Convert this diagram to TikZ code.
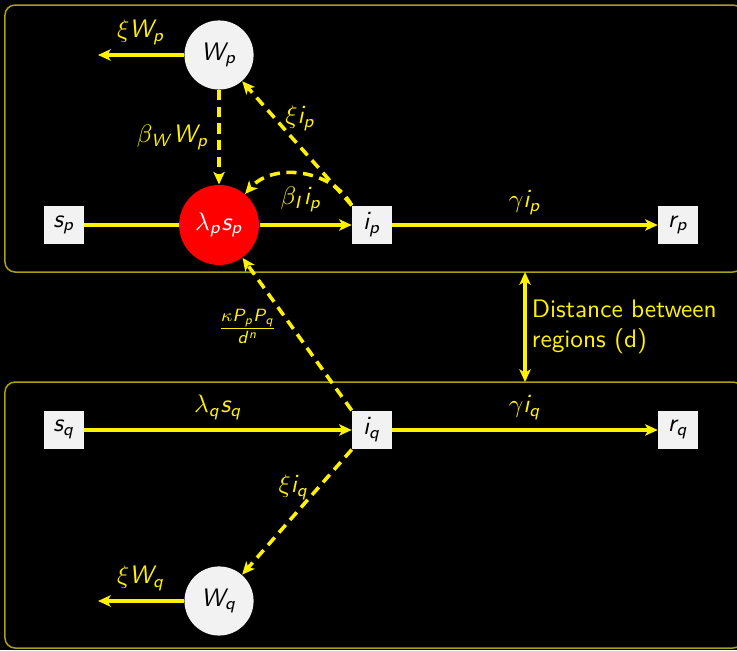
\documentclass[tikz,border=0pt]{standalone}
\usepackage{amsmath,amssymb}
\usepackage{xcolor}
\usepackage{tikz}
\usetikzlibrary{arrows.meta,positioning}

\DeclareMathAlphabet{\mathsfit}{OT1}{cmss}{m}{sl}
\newcommand{\sv}[1]{\mathsfit{#1}}
\definecolor{regionline}{RGB}{170,160,20}

\begin{document}
\begin{tikzpicture}[
    comp/.style={draw=none, fill=gray!10, minimum width=0.55cm, minimum height=0.53cm,
                 inner sep=2pt, text=black},
    reservoir/.style={circle, fill=gray!10, minimum size=0.96cm, inner sep=0pt, text=black},
    force/.style={circle, fill=red, minimum size=1.11cm, inner sep=0pt, text=white},
    flow/.style={line width=1.4pt, yellow, -{Stealth[length=5pt,width=4.5pt,inset=1.3pt]}},
    link/.style={line width=1.4pt, yellow},
    shed/.style={flow, dash pattern=on 4pt off 2.6pt},
    region/.style={draw=regionline, line width=0.6pt, rounded corners=0.14cm},
    lbl/.style={text=yellow},
]
\useasboundingbox (0,0) rectangle (10.236,9.028);
\fill[black] (0,0) rectangle (10.236,9.028);

% Regions
\draw[region] (0.069,5.25) rectangle (10.32,8.958);
\draw[region] (0.069,0.028) rectangle (10.32,3.722);
\coordinate (dtop) at (7.292,5.25);
\coordinate (dbot) at (7.292,3.722);

% === Region p ===
\node[comp] (sp) at (0.889,5.903) {$\sv{s}_{\sv{p}}$};
\node[force] (lam) at (3.042,5.903) {$\lambda_{\sv{p}}\sv{s}_{\sv{p}}$};
\node[comp] (ip) at (5.167,5.903) {$\sv{i}_{\sv{p}}$};
\node[comp] (rp) at (9.417,5.903) {$\sv{r}_{\sv{p}}$};
\node[reservoir] (wp) at (3.042,8.264) {$\sv{W}_{\sv{p}}$};
\coordinate (wpout) at (1.361,8.264);

\draw[link] (sp) -- (lam);
\draw[flow] (lam) -- (ip);
\draw[flow] (ip) -- node[lbl, above] {$\gamma \sv{i}_{\sv{p}}$} (rp);
\draw[flow] (wp) -- node[lbl, above] {$\xi \sv{W}_{\sv{p}}$} (wpout);
\draw[shed] (wp) -- node[lbl, left] {$\beta_{\sv{W}} \sv{W}_{\sv{p}}$} (lam);
\draw[shed] (ip.north west) -- node[lbl, pos=0.7, right] {$\xi \sv{i}_{\sv{p}}$} (wp);
\draw[shed] (ip.north west) to[bend right=55] node[lbl, midway, below=1pt] {$\beta_{\sv{I}} \sv{i}_{\sv{p}}$} (lam.50);

% === Region q ===
\node[comp] (sq) at (0.889,3.056) {$\sv{s}_{\sv{q}}$};
\node[comp] (iq) at (5.167,3.056) {$\sv{i}_{\sv{q}}$};
\node[comp] (rq) at (9.417,3.056) {$\sv{r}_{\sv{q}}$};
\node[reservoir] (wq) at (3.042,0.681) {$\sv{W}_{\sv{q}}$};
\coordinate (wqout) at (1.361,0.681);

\draw[flow] (sq) -- node[lbl, above] {$\lambda_{\sv{q}}\sv{s}_{\sv{q}}$} (iq);
\draw[flow] (iq) -- node[lbl, above] {$\gamma \sv{i}_{\sv{q}}$} (rq);
\draw[flow] (wq) -- node[lbl, above] {$\xi \sv{W}_{\sv{q}}$} (wqout);
\draw[shed] (iq.south west) -- node[lbl, pos=0.3, left] {$\xi \sv{i}_{\sv{q}}$} (wq);

% Coupling between regions
\draw[shed] (iq.north west) -- node[lbl, pos=0.55, left, inner sep=5pt] {$\frac{\kappa \sv{P}_{\sv{p}} \sv{P}_{\sv{q}}}{\sv{d}^{\sv{n}}}$} (lam);
\draw[line width=1.4pt, yellow, {Stealth[length=5pt,width=4.5pt,inset=1.3pt]}-{Stealth[length=5pt,width=4.5pt,inset=1.3pt]}]
    (dtop) -- node[lbl, right, align=left, font=\sffamily, inner sep=1.5pt, xshift=0.5pt] {Distance between\\regions (d)} (dbot);

\end{tikzpicture}
\end{document}
